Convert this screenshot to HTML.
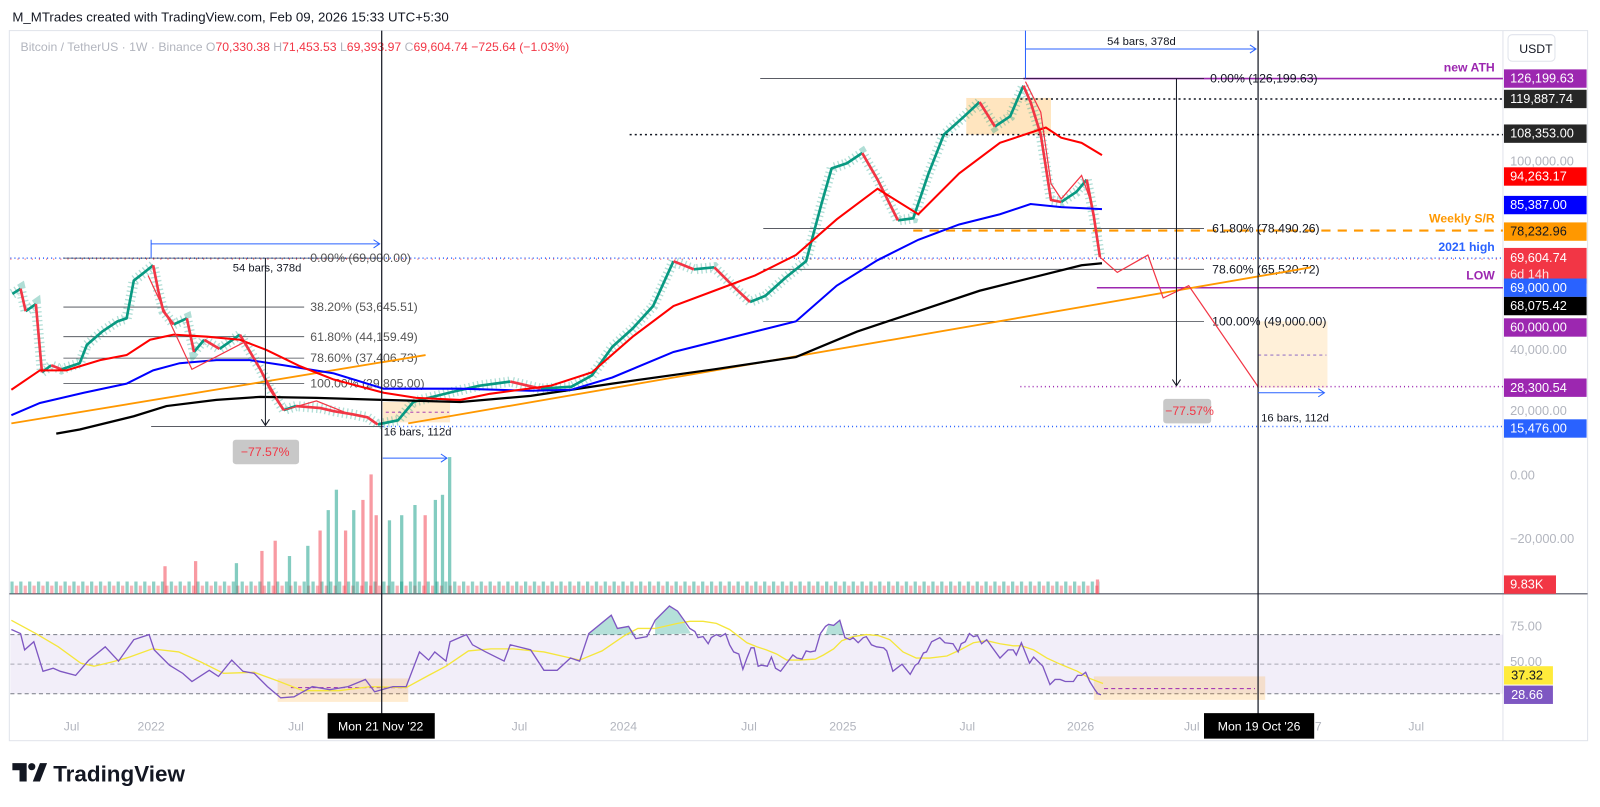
<!DOCTYPE html>
<html><head><meta charset="utf-8"><style>
html,body{margin:0;padding:0;background:#fff;}
svg{display:block;font-family:"Liberation Sans",sans-serif;}
</style></head><body>
<svg width="1600" height="807" viewBox="0 0 1568 791" xmlns="http://www.w3.org/2000/svg">
<defs>
<pattern id="vp" x="10" y="0" width="8.68" height="791" patternUnits="userSpaceOnUse">
<rect x="0" y="570" width="3.2" height="12" fill="#089981" fill-opacity="0.45"/>
<rect x="4.34" y="574" width="3.2" height="8" fill="#f23645" fill-opacity="0.4"/>
</pattern>
</defs>
<rect width="1568" height="791" fill="#fff"/>
<text x="12" y="21" font-size="13" fill="#131722">M_MTrades created with TradingView.com, Feb 09, 2026 15:33 UTC+5:30</text>
<rect x="9" y="30" width="1547" height="696" fill="none" stroke="#e0e3eb"/>
<line x1="1473" y1="30" x2="1473" y2="726" stroke="#e0e3eb"/>
<text x="20" y="50" font-size="12" fill="#b2b5be">Bitcoin / TetherUS · 1W · Binance  O<tspan fill="#f23645">70,330.38 </tspan> H<tspan fill="#f23645">71,453.53 </tspan> L<tspan fill="#f23645">69,393.97 </tspan> C<tspan fill="#f23645">69,604.74  −725.64 (−1.03%)</tspan></text>
<rect x="1478" y="34" width="46" height="26" rx="4" fill="#fff" stroke="#e0e3eb"/>
<text x="1489" y="52" font-size="12" fill="#131722">USDT</text>
<line x1="9" y1="582" x2="1556" y2="582" stroke="#787b86" stroke-width="1.5"/>
<rect x="10" y="560" width="1068" height="22" fill="url(#vp)"/>
<g fill-opacity="0.5">
<rect x="160" y="555" width="3.2" height="27" fill="#f23645"/><rect x="190" y="550" width="3.2" height="32" fill="#f23645"/>
<rect x="230" y="552" width="3.2" height="30" fill="#089981"/><rect x="255" y="540" width="3.2" height="42" fill="#f23645"/>
<rect x="268" y="530" width="3.2" height="52" fill="#f23645"/><rect x="282" y="545" width="3.2" height="37" fill="#089981"/>
<rect x="300" y="535" width="3.2" height="47" fill="#089981"/><rect x="312" y="520" width="3.2" height="62" fill="#f23645"/>
<rect x="320" y="500" width="3.2" height="82" fill="#089981"/><rect x="328" y="480" width="3.2" height="102" fill="#089981"/>
<rect x="337" y="520" width="3.2" height="62" fill="#f23645"/><rect x="345" y="500" width="3.2" height="82" fill="#089981"/>
<rect x="354" y="490" width="3.2" height="92" fill="#f23645"/><rect x="362" y="465" width="3.2" height="117" fill="#f23645"/>
<rect x="367" y="505" width="3.2" height="77" fill="#f23645"/><rect x="380" y="510" width="3.2" height="72" fill="#089981"/>
<rect x="392" y="505" width="3.2" height="77" fill="#089981"/><rect x="405" y="495" width="3.2" height="87" fill="#089981"/>
<rect x="415" y="505" width="3.2" height="77" fill="#f23645"/><rect x="425" y="490" width="3.2" height="92" fill="#089981"/>
<rect x="432" y="485" width="3.2" height="97" fill="#089981"/><rect x="439" y="448" width="3.2" height="134" fill="#089981"/>
<rect x="1074" y="568" width="3.2" height="14" fill="#f23645"/>
</g>
<rect x="10" y="622" width="1463" height="58" fill="#7e57c2" fill-opacity="0.1"/>
<line x1="10" y1="622" x2="1473" y2="622" stroke="#787b86" stroke-dasharray="4,3"/>
<line x1="10" y1="651" x2="1473" y2="651" stroke="#787b86" stroke-opacity="0.6" stroke-dasharray="4,3"/>
<line x1="10" y1="680" x2="1473" y2="680" stroke="#787b86" stroke-dasharray="4,3"/>
<rect x="272" y="665" width="128" height="23" fill="#ff9800" fill-opacity="0.18"/>
<rect x="1072" y="663" width="168" height="23" fill="#ff9800" fill-opacity="0.18"/>
<line x1="285" y1="674" x2="398" y2="674" stroke="#9c27b0" stroke-dasharray="4,3"/>
<line x1="1082" y1="675" x2="1230" y2="675" stroke="#9c27b0" stroke-dasharray="4,3"/>
<path d="M577 622 L599 603 L605 616 L616 614 L623 622 Z M642 622 L642 608 L656 594 L664 599 L677 621 Z M809 622 L812 612 L817 613 L823 608 L828 622 Z" fill="#089981" fill-opacity="0.3"/>
<polyline fill="none" stroke="#f5e63b" stroke-width="1.3" points="11,608 35,621 57,634 79,650 92,653 109,649 127,644 149,636 175,639 197,649 219,660 249,659 271,667 297,677 332,677 363,673 398,674 420,662 437,653 459,638 481,636 503,636 533,639 568,647 590,638 612,623 625,616 642,616 664,611 676,609 689,609 702,611 715,617 732,630 742,634 751,637 761,641 771,647 784,647 799,646 807,642 817,636 825,628 836,624 849,622 861,623 872,627 885,639 898,645 911,645 928,643 941,637 954,630 967,628 980,631 993,633 1001,633 1013,637 1026,645 1039,651 1056,658 1068,665 1081,670"/>
<polyline fill="none" stroke="#7e57c2" stroke-width="1.3" points="11,617 20,621 24,637 33,629 42,658 52,655 59,658 74,662 87,647 103,634 116,648 131,627 146,622 151,637 166,652 179,660 188,668 205,657 214,663 227,647 238,658 249,660 262,673 275,684 288,683 306,673 323,676 341,673 358,666 367,678 385,673 398,673 411,639 420,647 426,639 437,648 441,629 457,622 463,632 476,639 494,648 500,632 520,637 533,657 546,657 559,645 568,648 577,621 599,603 605,616 616,614 623,626 634,624 642,608 656,594 664,599 676,616 681,619 684,625 689,624 694,631 697,625 702,622 706,624 711,621 715,632 719,639 724,641 728,656 732,645 736,635 739,635 743,653 746,652 752,653 756,644 760,655 765,658 771,650 777,642 781,645 786,646 790,638 794,639 799,638 804,621 809,614 812,612 817,613 823,608 828,625 833,627 836,625 841,630 846,625 849,624 854,632 859,634 866,635 869,638 872,648 875,658 884,651 892,661 897,652 900,650 905,640 908,639 913,629 921,625 926,630 934,631 939,639 942,631 946,629 950,621 954,624 958,623 962,631 967,627 972,634 980,645 988,637 993,637 996,642 1001,630 1005,640 1009,650 1013,644 1022,653 1029,671 1034,666 1039,666 1044,668 1052,668 1056,662 1060,662 1064,659 1068,668 1073,676 1076,680 1079,681"/>
<rect x="947" y="96" width="83" height="36" fill="#ff9800" fill-opacity="0.25"/>
<rect x="375" y="394" width="66" height="20" fill="#ff9800" fill-opacity="0.2"/>
<line x1="378" y1="404" x2="440" y2="404" stroke="#9c27b0" stroke-dasharray="3,3" stroke-width="0.8"/>
<rect x="1233" y="315" width="68" height="65" fill="#ff9800" fill-opacity="0.15"/>
<line x1="1233" y1="348" x2="1300" y2="348" stroke="#7e57c2" stroke-dasharray="3,3" stroke-width="0.8"/>
<line x1="10" y1="253" x2="1473" y2="253" stroke="#2962ff" stroke-dasharray="1,3" stroke-width="1.5"/>
<line x1="10" y1="254" x2="1473" y2="254" stroke="#f23645" stroke-dasharray="1,6" stroke-width="1"/>
<line x1="1000" y1="97" x2="1473" y2="97" stroke="#131722" stroke-dasharray="2,3" stroke-width="1.5"/>
<line x1="617" y1="132" x2="1473" y2="132" stroke="#131722" stroke-dasharray="2,3" stroke-width="1.5"/>
<line x1="1003" y1="77" x2="1473" y2="77" stroke="#9c27b0" stroke-width="1.5"/>
<line x1="1075" y1="282" x2="1473" y2="282" stroke="#9c27b0" stroke-width="1.5"/>
<line x1="895" y1="226" x2="1473" y2="226" stroke="#ff9800" stroke-dasharray="9,7" stroke-width="2"/>
<line x1="1000" y1="379" x2="1473" y2="379" stroke="#9c27b0" stroke-dasharray="1,3" stroke-width="1.5"/>
<line x1="375" y1="418" x2="1473" y2="418" stroke="#2962ff" stroke-dasharray="1,3" stroke-width="1.5"/>
<g stroke="#131722" stroke-width="0.8" stroke-opacity="0.8">
<line x1="62" y1="253" x2="375" y2="253"/><line x1="62" y1="301" x2="298" y2="301"/>
<line x1="62" y1="330" x2="298" y2="330"/><line x1="62" y1="351" x2="298" y2="351"/>
<line x1="62" y1="376" x2="298" y2="376"/>
<line x1="745" y1="77" x2="1180" y2="77"/><line x1="748" y1="224" x2="1180" y2="224"/>
<line x1="748" y1="264" x2="1180" y2="264"/><line x1="748" y1="315" x2="1180" y2="315"/>
<line x1="148" y1="418" x2="375" y2="418"/>
</g>
<g font-size="12" fill="#131722">
<text x="304" y="257" fill="#555">0.00% (69,000.00)</text><text x="304" y="305" fill="#555">38.20% (53,645.51)</text>
<text x="304" y="334" fill="#555">61.80% (44,159.49)</text><text x="304" y="355" fill="#555">78.60% (37,406.73)</text>
<text x="304" y="380" fill="#555">100.00% (29,805.00)</text>
<text x="1186" y="81">0.00% (126,199.63)</text><text x="1188" y="228">61.80% (78,490.26)</text>
<text x="1188" y="268">78.60% (65,520.72)</text><text x="1188" y="319">100.00% (49,000.00)</text>
</g>
<polyline fill="none" stroke="#ff9800" stroke-width="1.8" points="11,415 417,348"/>
<polyline fill="none" stroke="#ff9800" stroke-width="1.8" points="400,415 1285,262"/>
<path fill="none" stroke="#089981" stroke-opacity="0.32" stroke-width="10" stroke-dasharray="1.3,3" d="M12 288L20 283L25 305L35 298L41 365L50 358L60 362L78 356L85 338L100 325L115 315L124 312L131 275L140 268L150 260L155 285L160 305L170 318L183 312L190 345L200 333L215 342L235 328L245 345L255 362L265 382L278 402L290 398L314 400L327 403L345 406L360 409L370 416L390 412L405 394L420 390L444 384L470 378L500 374L530 381L560 379L580 368L600 340L620 322L640 300L660 256L680 264L700 262L720 282L735 296L750 290L770 272L790 256L805 200L815 165L830 160L845 150L860 176L880 216L895 214L910 170L925 132L945 114L960 100L975 124L990 114L1003 84L1010 100L1020 132L1030 196L1040 198L1055 188L1065 176L1072 212L1078 252"/>
<path fill="none" stroke="#089981" stroke-width="2.6" stroke-linejoin="round" d="M12 288L20 283 M25 305L35 298 M41 365L50 358 M60 362L78 356L85 338L100 325L115 315L124 312L131 275L140 268L150 260 M170 318L183 312 M190 345L200 333 M215 342L235 328 M278 402L290 398 M370 416L390 412L405 394L420 390L444 384L470 378L500 374 M530 381L560 379L580 368L600 340L620 322L640 300L660 256 M680 264L700 262 M735 296L750 290L770 272L790 256L805 200L815 165L830 160L845 150 M880 216L895 214L910 170L925 132L945 114L960 100 M975 124L990 114L1003 84 M1040 198L1055 188L1065 176"/>
<path fill="none" stroke="#f23645" stroke-width="2.6" stroke-linejoin="round" d="M20 283L25 305 M35 298L41 365 M50 358L60 362 M150 260L155 285L160 305L170 318 M183 312L190 345 M200 333L215 342 M235 328L245 345L255 362L265 382L278 402 M290 398L314 400L327 403L345 406L360 409L370 416 M500 374L530 381 M660 256L680 264 M700 262L720 282L735 296 M845 150L860 176L880 216 M960 100L975 124 M1003 84L1010 100L1020 132L1030 196L1040 198 M1065 176L1072 212L1078 252"/>
<polyline fill="none" stroke="#000" stroke-width="2.2" points="55,425 78,421 131,408 163,398 212,392 255,389 310,390 376,392 451,394 520,388 600,376 700,362 780,350 840,325 900,305 960,285 1020,270 1060,260 1080,258"/>
<polyline fill="none" stroke="#0000ff" stroke-width="2" points="11,407 39,395 82,385 124,376 150,363 176,356 212,353 245,353 278,358 327,366 376,381 451,381 520,383 560,382 600,370 660,345 720,330 780,315 820,280 860,255 900,235 940,220 980,210 1010,200 1040,203 1080,205"/>
<polyline fill="none" stroke="#ff0000" stroke-width="2" points="11,382 39,363 65,363 98,353 124,348 147,333 170,328 203,330 235,333 261,343 294,359 327,372 376,385 408,390 451,392 480,386 540,378 580,365 620,330 660,300 700,285 740,270 780,250 820,215 860,185 900,210 940,170 980,140 1010,130 1025,125 1040,135 1060,140 1080,152"/>
<polyline fill="none" stroke="#f23645" stroke-width="1.2" points="1078,252 1095,267 1125,250 1140,292 1165,280 1233,379"/>
<polyline fill="none" stroke="#f23645" stroke-width="1.2" points="1005,80 1020,110 1030,180 1040,195 1060,172 1070,200"/>
<polyline fill="none" stroke="#f23645" stroke-width="1.2" points="145,270 188,362 240,335 278,402 310,393 345,407"/>
<line x1="374" y1="30" x2="374" y2="712" stroke="#131722" stroke-width="1.2"/>
<line x1="1233" y1="30" x2="1233" y2="712" stroke="#131722" stroke-width="1.2"/>
<g stroke="#2962ff" stroke-width="1" fill="none">
<line x1="1005" y1="48" x2="1231" y2="48"/><polyline points="1225,44 1231,48 1225,52"/>
<line x1="1005" y1="30" x2="1005" y2="77"/>
<line x1="148" y1="239" x2="372" y2="239"/><polyline points="366,235 372,239 366,243"/>
<line x1="148" y1="235" x2="148" y2="253"/>
<line x1="1233" y1="385" x2="1298" y2="385"/><polyline points="1292,381 1298,385 1292,389"/>
<line x1="375" y1="449" x2="438" y2="449"/><polyline points="432,445 438,449 432,453"/>
</g>
<g stroke="#131722" stroke-width="1" fill="none">
<line x1="1153" y1="77" x2="1153" y2="378"/><polyline points="1149,372 1153,378 1157,372"/>
<line x1="260" y1="253" x2="260" y2="417"/><polyline points="256,411 260,417 264,411"/>
</g>
<g font-size="11" fill="#131722">
<text x="1085" y="44">54 bars, 378d</text><text x="228" y="266">54 bars, 378d</text>
<text x="1236" y="413">16 bars, 112d</text><text x="376" y="427">16 bars, 112d</text>
</g>
<rect x="1140" y="391" width="47" height="24" rx="3" fill="#c8c8c8"/>
<text x="1142" y="407" font-size="12" fill="#f23645">−77.57%</text>
<rect x="228" y="431" width="65" height="24" rx="3" fill="#c8c8c8"/>
<text x="236" y="447" font-size="12" fill="#f23645">−77.57%</text>
<g font-size="12" font-weight="bold">
<text x="1465" y="70" text-anchor="end" fill="#9c27b0">new ATH</text>
<text x="1465" y="218" text-anchor="end" fill="#ff9800">Weekly S/R</text>
<text x="1465" y="246" text-anchor="end" fill="#2962ff">2021 high</text>
<text x="1465" y="274" text-anchor="end" fill="#9c27b0">LOW</text>
</g>
<g font-size="12.5" fill="#b2b5be">
<text x="1480" y="162">100,000.00</text><text x="1480" y="347">40,000.00</text>
<text x="1480" y="407">20,000.00</text><text x="1480" y="470">0.00</text>
<text x="1480" y="532">−20,000.00</text><text x="1480" y="618">75.00</text><text x="1480" y="653">50.00</text>
</g>
<g font-size="12.5">
<rect x="1474" y="68" width="81" height="18" fill="#9c27b0"/><text x="1480" y="81" fill="#fff">126,199.63</text>
<rect x="1474" y="88" width="81" height="18" fill="#262626"/><text x="1480" y="101" fill="#fff">119,887.74</text>
<rect x="1474" y="122" width="81" height="18" fill="#262626"/><text x="1480" y="135" fill="#fff">108,353.00</text>
<rect x="1474" y="164" width="81" height="18" fill="#ff0000"/><text x="1480" y="177" fill="#fff">94,263.17</text>
<rect x="1474" y="192" width="81" height="18" fill="#0000ff"/><text x="1480" y="205" fill="#fff">85,387.00</text>
<rect x="1474" y="218" width="81" height="18" fill="#ff9800"/><text x="1480" y="231" fill="#131722">78,232.96</text>
<rect x="1474" y="243" width="81" height="35" fill="#f23645"/><text x="1480" y="257" fill="#fff">69,604.74</text><text x="1480" y="273" fill="#fff" fill-opacity="0.85">6d 14h</text>
<rect x="1474" y="273" width="81" height="18" fill="#2962ff"/><text x="1480" y="286" fill="#fff">69,000.00</text>
<rect x="1474" y="291" width="81" height="18" fill="#000"/><text x="1480" y="304" fill="#fff">68,075.42</text>
<rect x="1474" y="312" width="81" height="18" fill="#9c27b0"/><text x="1480" y="325" fill="#fff">60,000.00</text>
<rect x="1474" y="371" width="81" height="18" fill="#9c27b0"/><text x="1480" y="384" fill="#fff">28,300.54</text>
<rect x="1474" y="411" width="81" height="18" fill="#2962ff"/><text x="1480" y="424" fill="#fff">15,476.00</text>
<rect x="1474" y="564" width="51" height="18" fill="#f23645"/><text x="1480" y="577" fill="#fff">9.83K</text>
<rect x="1474" y="653" width="48" height="18" fill="#ffeb3b"/><text x="1481" y="666" fill="#131722">37.32</text>
<rect x="1474" y="672" width="48" height="18" fill="#7e57c2"/><text x="1481" y="685" fill="#fff">28.66</text>
</g>
<g font-size="12" fill="#b2b5be" text-anchor="middle">
<text x="70" y="716">Jul</text><text x="148" y="716">2022</text><text x="290" y="716">Jul</text>
<text x="509" y="716">Jul</text><text x="611" y="716">2024</text><text x="734" y="716">Jul</text>
<text x="826" y="716">2025</text><text x="948" y="716">Jul</text><text x="1059" y="716">2026</text>
<text x="1168" y="716">Jul</text><text x="1292" y="716">7</text><text x="1388" y="716">Jul</text>
</g>
<rect x="321" y="699" width="105" height="25" fill="#000"/>
<text x="373" y="716" font-size="12" fill="#fff" text-anchor="middle">Mon 21 Nov '22</text>
<rect x="1180" y="699" width="108" height="25" fill="#000"/>
<text x="1234" y="716" font-size="12" fill="#fff" text-anchor="middle">Mon 19 Oct '26</text>
<g transform="translate(12,748)">
<path d="M0 0 H14 V18 H7 V7 H0 Z" fill="#131722"/><circle cx="19" cy="3.5" r="3.5" fill="#131722"/>
<path d="M20 18 L27 0 H34 L27 18 Z" fill="#131722"/>
</g>
<text x="52" y="766" font-size="22" font-weight="bold" fill="#131722">TradingView</text>
</svg>
</body></html>
